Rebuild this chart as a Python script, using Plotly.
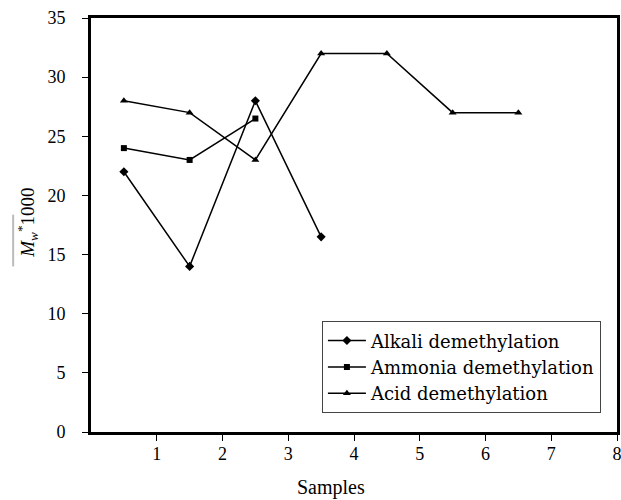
import plotly.graph_objects as go

alkali_x = [0.5, 1.5, 2.5, 3.5]
alkali_y = [22, 14, 28, 16.5]
ammonia_x = [0.5, 1.5, 2.5]
ammonia_y = [24, 23, 26.5]
acid_x = [0.5, 1.5, 2.5, 3.5, 4.5, 5.5, 6.5]
acid_y = [28, 27, 23, 32, 32, 27, 27]

FONT = "Liberation Serif"
LFONT = "DejaVu Serif"

fig = go.Figure()
fig.add_trace(go.Scatter(x=alkali_x, y=alkali_y, mode="lines+markers",
                         name="Alkali demethylation",
                         line=dict(color="black", width=1.5),
                         marker=dict(symbol="diamond", size=7, color="black")))
fig.add_trace(go.Scatter(x=ammonia_x, y=ammonia_y, mode="lines+markers",
                         name="Ammonia demethylation",
                         line=dict(color="black", width=1.5),
                         marker=dict(symbol="square", size=6, color="black")))
fig.add_trace(go.Scatter(x=acid_x, y=acid_y, mode="lines+markers",
                         name="Acid demethylation",
                         line=dict(color="black", width=1.5),
                         marker=dict(symbol="triangle-up", size=7, color="black")))

fig.update_layout(
    width=621, height=500,
    margin=dict(l=91, r=4, t=18, b=68),
    paper_bgcolor="white", plot_bgcolor="white",
    font=dict(family=FONT, size=18, color="black"),
    showlegend=True,
    legend=dict(x=0.439, y=0.045, xanchor="left", yanchor="bottom",
                bordercolor="#444", borderwidth=1, bgcolor="white",
                font=dict(family=LFONT, size=18), tracegroupgap=0,
                itemwidth=38),
    xaxis=dict(range=[0, 8], tickvals=[1, 2, 3, 4, 5, 6, 7, 8],
               ticks="outside", ticklen=6, tickcolor="black", tickwidth=1,
               showgrid=False, zeroline=False, automargin=False,
               ticklabeloverflow="allow", ticklabelstandoff=-3,
               showline=True, linecolor="black", linewidth=3, mirror=True,
               tickfont=dict(size=18)),
    yaxis=dict(range=[0, 35], tickvals=[0, 5, 10, 15, 20, 25, 30, 35],
               ticks="outside", ticklen=6, tickcolor="black", tickwidth=1,
               showgrid=False, zeroline=False, automargin=False,
               ticklabeloverflow="allow", ticklabelstandoff=13,
               showline=True, linecolor="black", linewidth=3, mirror=True,
               tickfont=dict(size=18)),
    annotations=[
        dict(text="Samples", xref="paper", yref="paper", x=0.456, y=-0.135,
             xanchor="center", yanchor="middle", showarrow=False,
             font=dict(family=FONT, size=20)),
        dict(text="<i>M</i><sub><i>w</i></sub><sup>*</sup>1000",
             xref="paper", yref="paper", x=-0.12, y=0.505, textangle=-90,
             xanchor="center", yanchor="middle", showarrow=False,
             font=dict(family=FONT, size=19)),
    ],
    shapes=[
        dict(type="line", xref="paper", yref="paper",
             x0=-0.148, x1=-0.148, y0=0.40, y1=0.525,
             line=dict(color="#bbbbbb", width=2)),
    ],
)

# remove the browser's default page margin so the figure fills the window exactly
fig.write_html("out.html",
               config={"displayModeBar": False},
               post_script="document.body.style.margin='0';document.body.style.overflow='hidden';")
